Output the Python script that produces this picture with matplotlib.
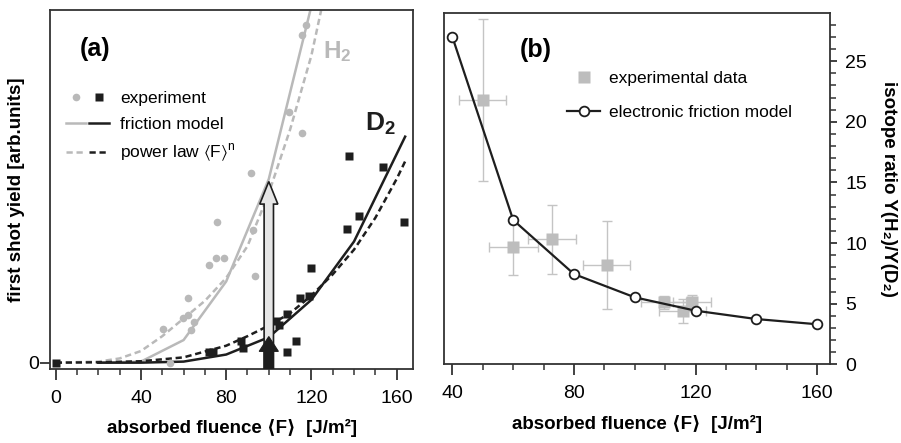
import matplotlib
matplotlib.use("Agg")
import matplotlib.pyplot as plt
from matplotlib.patches import FancyArrow
from matplotlib.lines import Line2D
from matplotlib.legend_handler import HandlerTuple

plt.rcParams['font.family'] = ['Liberation Sans', 'DejaVu Sans']
plt.rcParams['mathtext.fontset'] = 'custom'
plt.rcParams['mathtext.rm'] = 'Liberation Sans'
plt.rcParams['mathtext.bf'] = 'Liberation Sans:bold'
plt.rcParams['mathtext.fallback'] = 'stixsans'

GRAY = '#b9b9b9'
BLACK = '#1e1e1e'

# ---- panel (a): first shot yield ----
h2_exp_x = [117.4, 115.8, 109.7, 115.5, 91.5, 75.9, 92.6, 72.1, 75.1, 79.0, 93.7,
            62.3, 59.8, 62.0, 64.9, 50.2, 63.4, 53.7]
h2_exp_y = [95.7, 92.8, 70.9, 65.0, 53.8, 39.7, 37.6, 27.7, 29.6, 29.6, 24.6,
            18.4, 12.6, 13.5, 11.6, 9.5, 9.3, -0.2]
d2_exp_x = [0, 72.1, 74.0, 86.8, 87.8, 103.3, 105.0, 108.5, 108.5, 112.7, 114.7,
            119.1, 119.7, 136.6, 142.4, 137.6, 153.5, 163.5]
d2_exp_y = [-0.2, 2.9, 3.0, 6.1, 4.1, 11.9, 10.7, 13.7, 3.1, 6.2, 18.2,
            19.0, 26.9, 37.9, 41.4, 58.6, 55.5, 39.7]

h2_model_x = [20, 40, 60, 80, 100, 120]
h2_model_y = [0, 0.3, 6.4, 23, 52, 101]
d2_model_x = [20, 40, 60, 80, 100, 120, 140, 164]
d2_model_y = [0, 0, 0.3, 2.3, 7.2, 17.8, 34.3, 64]

h2_pow_x = [0, 20, 30, 40, 50, 60, 70, 80, 90, 100, 110, 120, 125]
h2_pow_y = [0, 0.3, 1.2, 3.3, 7.5, 12.5, 17.5, 24, 33, 48, 66, 87, 101]
d2_pow_x = [0, 20, 40, 60, 80, 90, 100, 110, 120, 130, 140, 150, 160, 164]
d2_pow_y = [0, 0.1, 0.4, 1.5, 4.8, 7.5, 10.5, 14, 19, 25, 32, 41, 52, 57]

arrow_x = 100
arrow_top_h2 = 51.3
arrow_top_d2 = 7.4

# ---- panel (b): isotope ratio ----
ratio_model_x = [40, 60, 80, 100, 120, 140, 160]
ratio_model_y = [27.0, 11.9, 7.44, 5.52, 4.42, 3.73, 3.3]
ratio_exp_x = [50.0, 60.1, 72.8, 90.7, 109.5, 115.8, 118.8]
ratio_exp_y = [21.8, 9.65, 10.3, 8.2, 5.1, 4.4, 5.1]
ratio_exp_xerr = [7.8, 7.9, 8.0, 7.8, 7.5, 7.7, 6.1]
ratio_exp_yerr = [6.7, 2.25, 2.85, 3.6, 0.5, 1.0, 0.6]

fig = plt.figure(figsize=(9.01, 4.43), dpi=100)
axa = fig.add_axes([0.0555, 0.167, 0.4029, 0.8115])
axb = fig.add_axes([0.4933, 0.1777, 0.4279, 0.7937])

for ax in (axa, axb):
    for sp in ax.spines.values():
        sp.set_color('#333333')
        sp.set_linewidth(1.3)

# panel a
axa.plot(h2_pow_x, h2_pow_y, color=GRAY, lw=1.8, ls=(0, (2.5, 1.5)))
axa.plot(h2_model_x, h2_model_y, color=GRAY, lw=1.8)
axa.plot(d2_pow_x, d2_pow_y, color=BLACK, lw=1.8, ls=(0, (2.5, 1.5)))
axa.plot(d2_model_x, d2_model_y, color=BLACK, lw=1.8)
axa.plot(h2_exp_x, h2_exp_y, 'o', color=GRAY, ms=5.5, mec='none')
axa.plot(d2_exp_x, d2_exp_y, 's', color=BLACK, ms=5.5, mec='none')

axa.add_patch(FancyArrow(arrow_x, -1.8, 0, arrow_top_h2 + 1.8, width=4.4,
                         head_width=8.5, head_length=6.4,
                         length_includes_head=True, fc='#e6e6e6',
                         ec=BLACK, lw=1.2, zorder=5))
axa.add_patch(FancyArrow(arrow_x, -1.8, 0, arrow_top_d2 + 1.8, width=4.4,
                         head_width=9.0, head_length=4.2,
                         length_includes_head=True, fc=BLACK,
                         ec=BLACK, lw=0.8, zorder=6))

axa.set_xlim(-2.7, 167.7)
axa.set_ylim(-1.8, 100)
axa.set_xticks([0, 40, 80, 120, 160])
axa.set_xticks(range(0, 170, 10), minor=True)
axa.set_yticks([0])
axa.tick_params(axis='x', which='major', direction='out', length=8, width=1.3,
                labelsize=14, pad=7, color='#333333')
axa.tick_params(axis='x', which='minor', direction='out', length=4, width=1.1,
                color='#333333')
axa.tick_params(axis='y', direction='out', length=7, width=1.3, labelsize=14,
                pad=1, color='#333333')
axa.set_xlabel('absorbed fluence \u27e8F\u27e9  [J/m\u00b2]', fontsize=13.5,
               fontweight='bold', labelpad=9)
axa.set_ylabel('first shot yield [arb.units]', fontsize=13.5, fontweight='bold',
               va='center')
axa.yaxis.set_label_coords(-0.091, 0.5)

axa.text(0.083, 0.891, '(a)', transform=axa.transAxes, fontsize=18,
         fontweight='bold', ha='left', va='center')
axa.text(0.752, 0.882, r'$\mathbf{H_2}$', transform=axa.transAxes,
         fontsize=17.5, color=GRAY, ha='left', va='center')
axa.text(0.868, 0.681, r'$\mathbf{D_2}$', transform=axa.transAxes,
         fontsize=19, color=BLACK, ha='left', va='center')

hg_pt = Line2D([], [], ls='none', marker='o', color=GRAY, ms=5.5, mec='none')
hb_pt = Line2D([], [], ls='none', marker='s', color=BLACK, ms=5.5, mec='none')
hg_ln = Line2D([], [], color=GRAY, lw=1.8)
hb_ln = Line2D([], [], color=BLACK, lw=1.8)
hg_ds = Line2D([], [], color=GRAY, lw=1.8, ls=(0, (2.5, 1.5)))
hb_ds = Line2D([], [], color=BLACK, lw=1.8, ls=(0, (2.5, 1.5)))
axa.legend([(hg_pt, hb_pt), (hg_ln, hb_ln), (hg_ds, hb_ds)],
           ['experiment', 'friction model',
            r'power law $\langle\mathrm{F}\rangle^\mathrm{n}$'],
           handler_map={tuple: HandlerTuple(ndivide=None, pad=0.2)},
           loc='upper left', bbox_to_anchor=(0.044, 0.773), frameon=False,
           borderpad=0, borderaxespad=0, fontsize=12.5, handlelength=2.5,
           handletextpad=0.6, labelspacing=0.6)

# panel b
axb.errorbar(ratio_exp_x, ratio_exp_y, xerr=ratio_exp_xerr, yerr=ratio_exp_yerr,
             fmt='none', ecolor='#c4c4c4', elinewidth=1.0, capsize=3.5,
             capthick=1.0, zorder=2)
axb.plot(ratio_exp_x, ratio_exp_y, 's', color='#bdbdbd', ms=8.5, mec='none',
         zorder=3, label='experimental data')
axb.plot(ratio_model_x, ratio_model_y, '-o', color=BLACK, lw=1.6, ms=7,
         mfc='white', mec=BLACK, mew=1.3, zorder=4,
         label='electronic friction model')

axb.set_xlim(37.4, 164.2)
axb.set_ylim(0, 29)
axb.set_xticks([40, 80, 120, 160])
axb.set_xticks(range(40, 170, 10), minor=True)
axb.set_yticks([0, 5, 10, 15, 20, 25])
axb.set_yticks(range(0, 29), minor=True)
axb.yaxis.tick_right()
axb.yaxis.set_label_position('right')
axb.tick_params(axis='x', which='major', direction='out', length=8, width=1.3,
                labelsize=14, pad=7, color='#333333')
axb.tick_params(axis='x', which='minor', direction='out', length=4.5, width=1.1,
                color='#333333')
axb.tick_params(axis='y', which='major', direction='out', length=5, width=1.3,
                labelsize=14, pad=6, color='#333333')
axb.tick_params(axis='y', which='minor', direction='out', length=4, width=1.1,
                color='#333333')
axb.set_xlabel('absorbed fluence \u27e8F\u27e9  [J/m\u00b2]', fontsize=13.5,
               fontweight='bold', labelpad=9)
axb.set_ylabel('isotope ratio Y(H\u2082)/Y(D\u2082)', fontsize=13.5,
               fontweight='bold', rotation=-90, va='center')
axb.yaxis.set_label_coords(1.153, 0.5)

axb.text(0.196, 0.894, '(b)', transform=axb.transAxes, fontsize=18,
         fontweight='bold', ha='left', va='center')
axb.legend(loc='upper left', bbox_to_anchor=(0.318, 0.834), frameon=False,
           borderpad=0, borderaxespad=0, fontsize=12.5, handlelength=1.9,
           handletextpad=0.5, labelspacing=1.1)

fig.savefig('out.png', dpi=100)
